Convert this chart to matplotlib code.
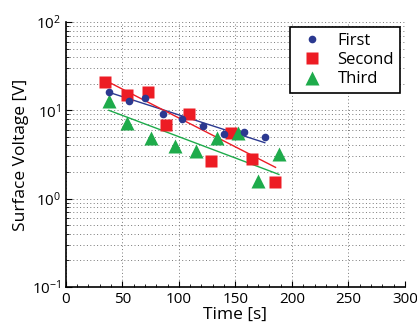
import numpy as np
import matplotlib
matplotlib.use("Agg")
import matplotlib.pyplot as plt
from matplotlib.ticker import LogLocator, MultipleLocator, NullFormatter

plt.rcParams['font.family'] = ['Open Sans', 'DejaVu Sans']

# measured points
t_first = [38, 55.5, 70, 86, 103, 121, 140, 158, 176]
v_first = [16.0, 12.9, 13.8, 9.2, 7.9, 6.7, 5.4, 5.7, 5.0]

t_second = [34.5, 54, 72.5, 88.5, 109, 128.5, 146, 165, 185]
v_second = [21.1, 15.0, 16.0, 6.8, 9.0, 2.65, 5.5, 2.8, 1.55]

t_third = [38, 54.5, 75, 96.5, 115.5, 133.5, 152, 170, 188.5]
v_third = [12.7, 7.1, 4.9, 3.97, 3.5, 4.85, 5.5, 1.6, 3.2]

# fitted trend lines (end points)
fit_first_t = [38, 176]
fit_first_v = [16.0, 4.3]
fit_second_t = [40, 185.5]
fit_second_v = [20.2, 2.26]
fit_third_t = [38, 188.5]
fit_third_v = [10.0, 1.88]

labels = ["First", "Second", "Third"]
blue = "#2b3990"
red = "#ed1c24"
green = "#1eab4b"

fig = plt.figure(figsize=(4.17, 3.23), dpi=100)
ax = fig.add_axes([0.158, 0.1115, 0.813, 0.8205])

ax.plot(fit_first_t, fit_first_v, color=blue, lw=1)
ax.plot(fit_second_t, fit_second_v, color=red, lw=1)
ax.plot(fit_third_t, fit_third_v, color=green, lw=1)

ax.plot(t_first, v_first, "o", color=blue, ms=5.5, mec="none", label=labels[0], zorder=4)
ax.plot(t_second, v_second, "s", color=red, ms=8, mec="none", label=labels[1], zorder=3)
ax.plot(t_third, v_third, "^", color=green, ms=10, mec="none", label=labels[2], zorder=3)

ax.set_yscale("log")
ax.set_xlim(0, 300)
ax.set_ylim(0.1, 100)
ax.xaxis.set_major_locator(MultipleLocator(50))
ax.xaxis.set_minor_locator(MultipleLocator(10))
ax.yaxis.set_major_locator(LogLocator(base=10))
ax.yaxis.set_minor_locator(LogLocator(base=10, subs=np.arange(2, 10)))
ax.yaxis.set_minor_formatter(NullFormatter())

grid_style = dict(ls=(0, (1, 2.5)), color="#777777", lw=0.7)
ax.grid(True, which="major", axis="x", **grid_style)
ax.grid(True, which="both", axis="y", **grid_style)
ax.set_axisbelow(True)

for s in ["top", "right"]:
    ax.spines[s].set_visible(False)
ax.spines["left"].set_linewidth(1.2)
ax.spines["bottom"].set_linewidth(1.2)
ax.tick_params(which="both", direction="in", top=False, right=False, labelsize=11)
ax.tick_params(which="major", length=4)
ax.tick_params(which="minor", length=2)

ax.set_xlabel("Time [s]", fontsize=12.5, labelpad=0)
ax.set_ylabel("Surface Voltage [V]", fontsize=12.5, labelpad=2)

leg = ax.legend(loc="upper right", bbox_to_anchor=(0.985, 0.981), borderaxespad=0,
                fontsize=12, fancybox=False, framealpha=1, edgecolor="black",
                handletextpad=0.5, borderpad=0.35, labelspacing=0.2)
leg.get_frame().set_linewidth(1.2)

fig.savefig("out.png", dpi=100)
